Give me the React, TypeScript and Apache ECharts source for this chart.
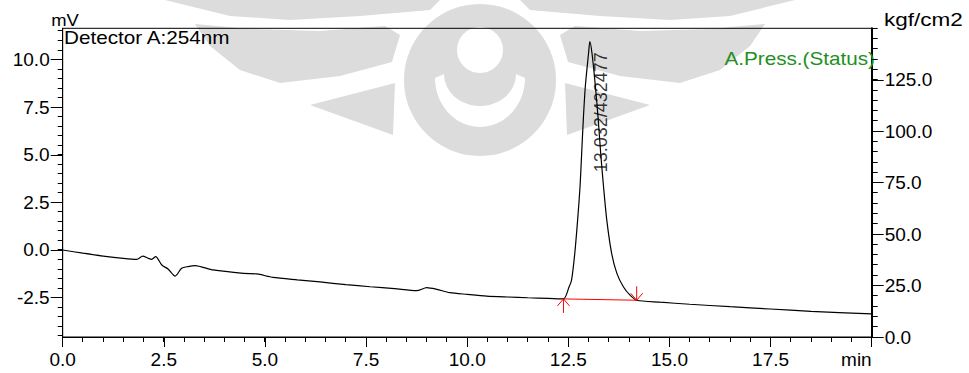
import React, { useEffect, useRef } from "react";
import * as echarts from "echarts";

// Detector trace: retention time (min) and signal (mV)
const times = [
  0, 0.5, 1.0, 1.5, 1.83, 1.98, 2.1, 2.2, 2.3, 2.45, 2.61, 2.78, 2.94, 3.1, 3.27, 3.72,
  4.47, 4.8, 5.2, 5.8, 6.36, 7.0, 7.6, 8.2, 8.75, 9.0, 9.25, 9.57, 10.0, 10.48, 11.0,
  11.5, 12.0, 12.38, 12.52, 12.58, 12.66, 12.73, 12.79, 12.83, 12.87, 12.92, 13.0,
  13.032, 13.085, 13.17, 13.24, 13.3, 13.37, 13.45, 13.57, 13.7, 13.86, 14.02, 14.19,
  14.77, 15.5, 16.5, 17.49, 18.5, 20.0,
];
const signal = [
  0, -0.17, -0.32, -0.44, -0.49, -0.32, -0.42, -0.49, -0.35, -0.79, -1.01, -1.37, -0.96,
  -0.87, -0.82, -1.05, -1.23, -1.26, -1.44, -1.57, -1.68, -1.82, -1.93, -2.03, -2.14,
  -1.98, -2.07, -2.24, -2.33, -2.42, -2.47, -2.51, -2.54, -2.57, -1.93, -1.58, -0.17,
  1.58, 3.33, 5.08, 6.83, 8.58, 10.33, 10.94, 10.33, 8.58, 6.83, 5.08, 3.33, 1.58, -0.17,
  -1.23, -1.93, -2.36, -2.64, -2.74, -2.85, -2.98, -3.1, -3.22, -3.36,
];

// Integrated peak
const peakTime = 13.032;
const peakHeight = 10.94;
const peakArea = 432477;
const peakStart = [12.38, -2.57];
const peakEnd = [14.19, -2.64];

// Axes
const timeMin = 0;
const timeMax = 20;
const mvMin = -4.57;
const mvMax = 11.64;
const mvMajorTicks = [-2.5, 0, 2.5, 5, 7.5, 10];
const pressMin = 0;
const pressMax = 150;

// Minor tick steps
const timeMinorStep = 0.5;
const mvMinorStep = 0.5;
const pressMinorStep = 5;

const FONT = "'Liberation Sans', Arial, sans-serif";
const GRAY = "#dcdcdc";

function steps(from: number, to: number, step: number) {
  const out: number[] = [];
  for (let v = from; v <= to + 1e-9; v += step) out.push(Math.round(v * 1000) / 1000);
  return out;
}

function mirror(pts: number[][]) {
  return pts.map(([x, y]) => [960 - x, y]);
}

// Faint emblem behind the plot
function emblem() {
  const topBand = [[165, 0], [440, 0], [430, 10], [360, 16], [290, 20], [230, 16]];
  const leaf = [[195, 24], [250, 29], [320, 31], [385, 26], [400, 35], [392, 62], [340, 76], [280, 83], [240, 70], [210, 46]];
  const tri = [[310, 105], [395, 83], [393, 135]];
  const crescent: number[][] = [];
  for (let i = 0; i <= 24; i++) {
    const a = (Math.PI * i) / 24;
    crescent.push([480 + 45 * Math.cos(a), 78 + 49 * Math.sin(a)]);
  }
  for (let i = 24; i >= 0; i--) {
    const a = (Math.PI * i) / 24;
    crescent.push([480 + 36 * Math.cos(a), 74 + 32 * Math.sin(a)]);
  }
  const poly = (points: number[][], fill: string, z2 = 0) => ({
    type: "polygon",
    silent: true,
    z: -10,
    z2,
    shape: { points },
    style: { fill },
  });
  return [
    poly(topBand, GRAY),
    poly(mirror(topBand), GRAY),
    poly(leaf, GRAY),
    poly(mirror(leaf), GRAY),
    poly(tri, GRAY),
    poly(mirror(tri), GRAY),
    { type: "circle", silent: true, z: -10, z2: 0, shape: { cx: 480, cy: 80, r: 76 }, style: { fill: GRAY } },
    { type: "circle", silent: true, z: -10, z2: 1, shape: { cx: 480, cy: 50, r: 23 }, style: { fill: "#fff" } },
    poly(crescent, "#fff", 1),
  ];
}

function texts() {
  return [
    {
      type: "text",
      x: 65,
      y: 28.5,
      scaleX: 1.15,
      style: {
        text: "mV",
        font: `16px ${FONT}`,
        fill: "#000",
        textAlign: "center",
        textVerticalAlign: "bottom",
        align: "center",
        verticalAlign: "bottom",
      },
    },
    {
      type: "text",
      x: 884,
      y: 29,
      scaleX: 1.25,
      style: {
        text: "kgf/cm2",
        font: `18px ${FONT}`,
        fill: "#000",
        textAlign: "left",
        textVerticalAlign: "bottom",
        align: "left",
        verticalAlign: "bottom",
      },
    },
    {
      type: "text",
      x: 64,
      y: 28.5,
      scaleX: 1.15,
      z: 10,
      style: {
        text: "Detector A:254nm",
        font: `18px ${FONT}`,
        fill: "#000",
        textAlign: "left",
        textVerticalAlign: "top",
        align: "left",
        verticalAlign: "top",
      },
    },
    {
      type: "text",
      x: 875,
      y: 59,
      scaleX: 1.15,
      z: 10,
      style: {
        text: "A.Press.(Status)",
        font: `18px ${FONT}`,
        fill: "#1f8f1f",
        textAlign: "right",
        textVerticalAlign: "middle",
        align: "right",
        verticalAlign: "middle",
      },
    },
  ];
}

// Minor ticks, positioned through the trace series' own coordinate system
function addMinorTicks(chart: any) {
  const zr = chart.getZr();
  const toPx = (t: number, v: number) => chart.convertToPixel({ seriesIndex: 0 }, [t, v]);
  const pressPx = (v: number) => chart.convertToPixel({ yAxisIndex: 1 }, v);
  const origin = toPx(timeMin, mvMin);
  const corner = toPx(timeMax, mvMin);
  if (!origin || !corner) return;
  const xLeft = origin[0];
  const yBottom = origin[1];
  const xRight = corner[0];
  const crisp = (v: number) => Math.round(v - 0.5) + 0.5;
  const add = (x1: number, y1: number, x2: number, y2: number) => {
    if (![x1, y1, x2, y2].every((n) => Number.isFinite(n))) return;
    zr.add(
      new echarts.graphic.Line({
        shape: { x1, y1, x2, y2 },
        style: { stroke: "#000", lineWidth: 1 },
        silent: true,
        z: 100,
      })
    );
  };
  steps(timeMin, timeMax, timeMinorStep).forEach((t) => {
    const x = crisp(toPx(t, mvMin)[0]);
    add(x, yBottom, x, yBottom + 5);
  });
  steps(-4.5, mvMax, mvMinorStep).forEach((v) => {
    const y = crisp(toPx(timeMin, v)[1]);
    add(xLeft - 5, y, xLeft, y);
  });
  steps(pressMin, pressMax, pressMinorStep).forEach((v) => {
    const y = crisp(pressPx(v));
    add(xRight, y, xRight + 6, y);
  });
}

export default function App() {
  const ref = useRef<HTMLDivElement>(null);

  useEffect(() => {
    if (!ref.current) return;
    const chart = echarts.init(ref.current, undefined, { renderer: "svg" });
    const trace = times.map((t, i) => [t, signal[i]]);
    const labelStyle = { color: "#000", fontFamily: FONT, fontSize: 19 };
    const black = { color: "#000", width: 1 };

    chart.setOption({
      animation: false,
      backgroundColor: "#fff",
      grid: {
        left: 62.7,
        right: 97.3,
        top: 28.3,
        bottom: 36,
        show: true,
        borderColor: "#000",
        borderWidth: 1,
      },
      xAxis: {
        type: "value",
        min: timeMin,
        max: timeMax,
        interval: 2.5,
        axisLine: { show: true, onZero: false, lineStyle: black },
        axisTick: { show: true, inside: false, length: 10, lineStyle: black },
        splitLine: { show: false },
        axisLabel: {
          ...labelStyle,
          margin: 13,
          alignMaxLabel: "right",
          formatter: (v: number) => (v === timeMax ? "min" : v.toFixed(1)),
        },
      },
      yAxis: [
        {
          type: "value",
          position: "left",
          min: mvMin,
          max: mvMax,
          axisLine: { show: true, onZero: false, lineStyle: black },
          axisTick: { show: true, length: 12, customValues: mvMajorTicks, lineStyle: black },
          splitLine: { show: false },
          axisLabel: {
            ...labelStyle,
            margin: 13,
            customValues: mvMajorTicks,
            formatter: (v: number) => v.toFixed(1),
          },
        },
        {
          type: "value",
          position: "right",
          min: pressMin,
          max: pressMax,
          interval: 25,
          axisLine: { show: true, onZero: false, lineStyle: { color: "#000", width: 2 } },
          axisTick: { show: true, length: 12, lineStyle: black },
          splitLine: { show: false },
          axisLabel: {
            ...labelStyle,
            margin: 13,
            showMaxLabel: false,
            formatter: (v: number) => v.toFixed(1),
          },
        },
      ],
      graphic: [...emblem(), ...texts()],
      series: [
        {
          name: "Detector A",
          type: "line",
          data: trace,
          yAxisIndex: 0,
          showSymbol: false,
          smooth: 0.25,
          lineStyle: { color: "#000", width: 1.2 },
          z: 3,
        },
        {
          name: "Baseline",
          type: "line",
          data: [peakStart, peakEnd],
          yAxisIndex: 0,
          showSymbol: false,
          lineStyle: { color: "#ff0000", width: 1 },
          z: 4,
        },
        {
          name: "Peak markers",
          type: "custom",
          yAxisIndex: 0,
          data: [
            [peakStart[0], peakStart[1], 1],
            [peakEnd[0], peakEnd[1], -1],
          ],
          encode: { x: 0, y: 1 },
          z: 4,
          renderItem: (_params: any, api: any) => {
            const p = api.coord([api.value(0), api.value(1)]);
            const dir = api.value(2);
            const style = { stroke: "#ff0000", lineWidth: 1, fill: "none" };
            return {
              type: "group",
              children: [
                { type: "line", shape: { x1: p[0], y1: p[1], x2: p[0], y2: p[1] + dir * 14 }, style },
                {
                  type: "polyline",
                  shape: { points: [[p[0] - 6, p[1] + dir * 7], [p[0], p[1]], [p[0] + 6, p[1] + dir * 7]] },
                  style,
                },
              ],
            };
          },
        },
        {
          name: "Peak label",
          type: "scatter",
          yAxisIndex: 0,
          data: [[peakTime, peakHeight]],
          symbolSize: 1,
          itemStyle: { color: "rgba(0,0,0,0)" },
          z: 5,
          label: {
            show: true,
            formatter: () => `${peakTime.toFixed(3)}/${peakArea}`,
            rotate: 90,
            position: [12, 11],
            align: "right",
            verticalAlign: "middle",
            color: "#000",
            fontFamily: FONT,
            fontSize: 18,
          },
        },
      ],
    });

    addMinorTicks(chart);

    return () => chart.dispose();
  }, []);

  return (
    <div
      ref={ref}
      style={{ position: "fixed", left: 0, top: 0, width: 969, height: 373, background: "#fff" }}
    />
  );
}
